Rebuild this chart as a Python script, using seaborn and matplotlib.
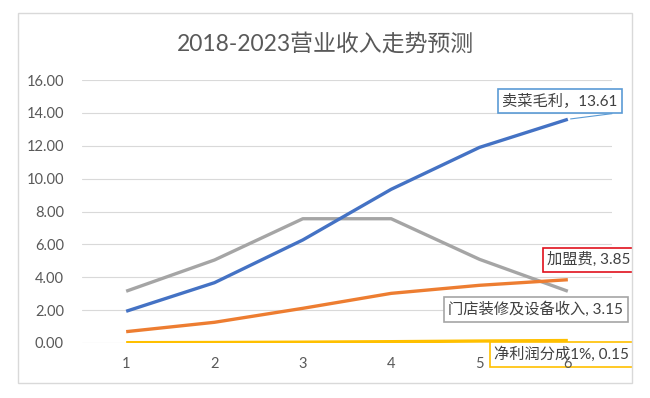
import matplotlib
matplotlib.use("Agg")
import matplotlib.pyplot as plt
import seaborn as sns
import pandas as pd
from matplotlib.patches import Rectangle

years = [1, 2, 3, 4, 5, 6]
series_names = ["卖菜毛利", "加盟费", "门店装修及设备收入", "净利润分成1%"]
veg_profit = [1.93, 3.67, 6.27, 9.35, 11.90, 13.61]
franchise_fee = [0.69, 1.26, 2.11, 3.02, 3.51, 3.85]
store_equipment = [3.15, 5.05, 7.56, 7.56, 5.09, 3.15]
net_profit_share = [0.02, 0.03, 0.05, 0.08, 0.12, 0.15]
y_ticks = [0, 2, 4, 6, 8, 10, 12, 14, 16]
title = "2018-2023营业收入走势预测"

colors = ["#4472C4", "#ED7D31", "#A5A5A5", "#FFC000"]
value_lists = [veg_profit, franchise_fee, store_equipment, net_profit_share]

rows = []
for name, vals in zip(series_names, value_lists):
    for x, v in zip(years, vals):
        rows.append({"year": x, "value": v, "series": name})
df = pd.DataFrame(rows)

sns.set_theme(style="white")
plt.rcParams["font.family"] = ["Lato", "Noto Sans CJK SC", "DejaVu Sans"]

W, H = 650, 398
fig = plt.figure(figsize=(6.5, 3.98), dpi=100)
ax = fig.add_axes([82 / W, (H - 343) / H, (612 - 82) / W, (343 - 80) / H])

order = ["门店装修及设备收入", "卖菜毛利", "加盟费", "净利润分成1%"]
pal = dict(zip(series_names, colors))
for name in order:
    sns.lineplot(data=df[df["series"] == name], x="year", y="value",
                 color=pal[name], linewidth=2.4, ax=ax, legend=False,
                 solid_capstyle="butt")

ax.set_xlim(0.5, 6.5)
ax.set_ylim(0, 16)
ax.set_yticks(y_ticks)
ax.set_yticklabels([f"{t:.2f}" for t in y_ticks])
ax.set_xticks(years)
ax.set_xticklabels([str(y) for y in years])
ax.tick_params(axis="both", length=0, colors="#595959", labelsize=10.5)
ax.tick_params(axis="y", pad=13)
ax.tick_params(axis="x", pad=10)
ax.yaxis.grid(True, color="#D9D9D9", linewidth=0.8)
ax.set_axisbelow(True)
for s in ax.spines.values():
    s.set_visible(False)
ax.set_xlabel("")
ax.set_ylabel("")

fig.text(325 / W, 1 - 44 / H, title, ha="center", va="center",
         fontsize=16.5, color="#595959")

label_specs = [
    (0, "卖菜毛利，13.61", (-8, 18), "#5B9BD5"),
    (1, "加盟费, 3.85", (21, 20), "#E0101C"),
    (2, "门店装修及设备收入, 3.15", (-32, -18), "#A5A5A5"),
    (3, "净利润分成1%, 0.15", (-6, -14), "#FFC000"),
]
for idx, text, off, ec in label_specs:
    vals = value_lists[idx]
    ax.annotate(text, xy=(years[-1], vals[-1]), xytext=off,
                textcoords="offset pixels", ha="center", va="center",
                fontsize=11, color="#404040", annotation_clip=False,
                bbox=dict(boxstyle="square,pad=0.3", fc="white", ec=ec, lw=1.2),
                zorder=5)

ax.annotate("", xy=(years[-1], veg_profit[-1]), xytext=(47, 6),
            textcoords="offset pixels", annotation_clip=False,
            arrowprops=dict(arrowstyle="-", color="#5B9BD5", lw=0.8))

# x tick labels are drawn over the labels, as in the reference
ax.xaxis.set_zorder(6)

# white mask outside the chart frame, then the frame itself
fig.patches.append(Rectangle((632 / W, 0), 1 - 632 / W, 1, transform=fig.transFigure,
                             facecolor="white", edgecolor="none", zorder=9))
fig.patches.append(Rectangle((18 / W, 1 - 383 / H), (632 - 18) / W, (383 - 13) / H,
                             transform=fig.transFigure, fill=False,
                             edgecolor="#D9D9D9", linewidth=1.0, zorder=10))

fig.savefig("out.png", dpi=100)
